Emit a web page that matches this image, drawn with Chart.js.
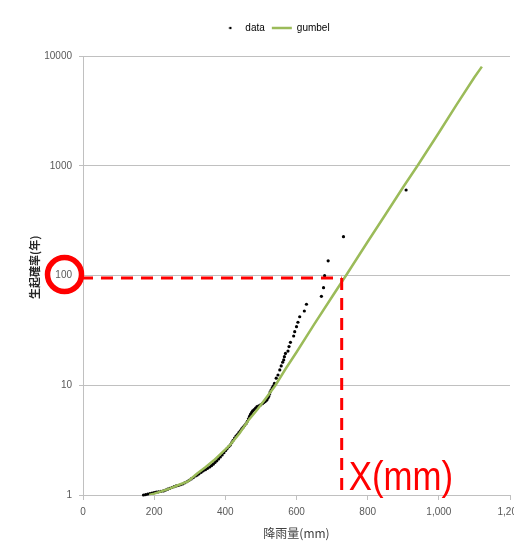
<!DOCTYPE html>
<html>
<head>
<meta charset="utf-8">
<script src="https://cdn.jsdelivr.net/npm/chart.js@4/dist/chart.umd.min.js"></script>
<style>
  html, body { margin: 0; padding: 0; background: #fff; overflow: hidden; }
  #wrap { width: 514px; height: 557px; overflow: hidden; }
  canvas { display: block; }
</style>
</head>
<body>
<div id="wrap"><canvas id="chart" width="530" height="557"></canvas></div>
<script>
// observed annual rainfall (mm) and return period (years)
const rainData = [
  908, 732, 689, 679, 676, 670, 628, 622, 609, 604, 600, 595, 592, 583, 579, 576,
  569, 566, 564, 561, 557, 553, 548, 543, 538, 535, 532, 529, 526, 524, 522, 519,
  516, 512, 508, 504, 499, 494, 489, 485, 481, 477, 474, 471, 468, 465, 462, 458,
  454, 450, 446, 442, 438, 434, 430, 426, 422, 418, 414, 410, 405, 401, 396, 391,
  386, 381, 376, 371, 366, 361, 356, 350, 344, 338, 332, 326, 321, 316, 310, 304,
  298, 292, 286, 280, 274, 268, 262, 256, 250, 244, 238, 232, 226, 219, 212, 206,
  200, 194, 188, 182, 176, 170
];
const yearData = [
  601, 226, 136, 99.6, 77.4, 64.6, 54.7, 47.5, 42.1, 37.5, 34.2, 30.8, 28.1, 24.6, 22.5, 20.5,
  19.5, 18.2, 17.0, 16.2, 15.0, 13.8, 12.4, 11.6, 10.4, 9.9, 9.5, 9.1, 8.7, 8.3, 7.9, 7.6,
  7.3, 7.1, 6.95, 6.8, 6.62, 6.5, 6.38, 6.2, 6.0, 5.85, 5.65, 5.45, 5.2, 4.95, 4.7, 4.46,
  4.3, 4.15, 4.0, 3.84, 3.7, 3.56, 3.44, 3.3, 3.15, 3.0, 2.86, 2.76, 2.65, 2.55, 2.43, 2.32,
  2.22, 2.13, 2.05, 1.98, 1.91, 1.85, 1.8, 1.75, 1.7, 1.66, 1.61, 1.56, 1.52, 1.49, 1.44, 1.4,
  1.36, 1.32, 1.29, 1.26, 1.24, 1.22, 1.21, 1.19, 1.17, 1.15, 1.13, 1.11, 1.09, 1.08, 1.07, 1.06,
  1.05, 1.04, 1.03, 1.02, 1.01, 1.0
];

// fitted gumbel curve
const gumbelRain = [186, 200, 220, 245, 270, 295, 320, 345, 367, 390, 414, 440, 465, 490, 515,
  540, 570, 600, 650, 700, 740, 800, 850, 900, 940, 1000, 1050, 1100, 1121];
const gumbelYear = [1.0, 1.03, 1.08, 1.15, 1.24, 1.33, 1.56, 1.8, 2.06, 2.42, 2.88, 3.65, 4.8, 6.0, 7.7,
  9.9, 14.2, 20, 36, 64, 101, 203, 360, 640, 1000, 2000, 3600, 6400, 8000];

const xTicks = [0, 200, 400, 600, 800, 1000, 1200];
const yTicks = [1, 10, 100, 1000, 10000];

// 100-year reading marked in red
const markRain = 727;
const markYear = 95;
const markLabel = 'X(mm)';

const GREEN = '#9bbb59';
const RED = '#ff0000';
const GRID = '#c0c0c0';
const NUM_FONT = "'Liberation Sans', sans-serif";
const JP_FONT = "'Noto Sans CJK JP', sans-serif";

// tiny dot used as the legend marker for the data series
const dotIcon = document.createElement('canvas');
dotIcon.width = 4; dotIcon.height = 4;
(function () {
  const c = dotIcon.getContext('2d');
  c.fillStyle = '#000';
  c.beginPath(); c.arc(2, 2, 1.3, 0, Math.PI * 2); c.fill();
})();

// keeps the legend row where it is but leaves a wider gap above the plot
const legendGap = {
  id: 'legendGap',
  afterInit(chart) {
    const lg = chart.legend;
    const fit = lg.fit.bind(lg);
    lg.fit = function () { fit(); this.height += 13; };
  },
  afterLayout(chart) {
    chart.legend.left += 20;
    chart.legend.right += 20;
  }
};

const redMarks = {
  id: 'redMarks',
  afterDraw(chart) {
    const { ctx, chartArea, scales: { x, y } } = chart;
    const px = x.getPixelForValue(markRain);
    const py = y.getPixelForValue(markYear);
    ctx.save();
    ctx.strokeStyle = RED;
    ctx.lineWidth = 3;
    ctx.setLineDash([12, 8]);
    ctx.beginPath();
    ctx.moveTo(chartArea.left - 2, py);
    ctx.lineTo(px, py);
    ctx.stroke();
    ctx.beginPath();
    ctx.moveTo(px, py);
    ctx.lineTo(px, chartArea.bottom - 4);
    ctx.stroke();
    ctx.setLineDash([]);
    ctx.lineWidth = 5.5;
    ctx.beginPath();
    ctx.arc(chartArea.left - 18.5, y.getPixelForValue(100) - 1, 17, 0, Math.PI * 2);
    ctx.stroke();
    // condensed label next to the vertical marker
    ctx.translate(px + 7, chartArea.bottom - 5);
    ctx.scale(0.87, 1);
    ctx.fillStyle = RED;
    ctx.font = '40px ' + NUM_FONT;
    ctx.textBaseline = 'alphabetic';
    ctx.fillText(markLabel, 0, 0);
    ctx.restore();
  }
};

new Chart(document.getElementById('chart'), {
  type: 'scatter',
  data: {
    datasets: [
      {
        label: 'data',
        data: rainData.map((x, i) => ({ x, y: yearData[i] })),
        pointRadius: 1.6,
        pointBackgroundColor: '#000',
        pointBorderWidth: 0,
        showLine: false,
        clip: false,
        order: 1
      },
      {
        type: 'line',
        label: 'gumbel',
        data: gumbelRain.map((x, i) => ({ x, y: gumbelYear[i] })),
        borderColor: GREEN,
        borderWidth: 2.5,
        pointRadius: 0,
        fill: false,
        tension: 0,
        order: 0
      }
    ]
  },
  options: {
    responsive: false,
    animation: false,
    devicePixelRatio: 1,
    layout: { padding: { top: 16, right: 20, bottom: 0, left: 0 } },
    plugins: {
      tooltip: { enabled: false },
      legend: {
        position: 'top',
        labels: {
          usePointStyle: true,
          pointStyleWidth: 20,
          boxHeight: 10,
          padding: 7,
          color: '#404040',
          font: { family: NUM_FONT, size: 10 },
          generateLabels: () => [
            { text: 'data', pointStyle: dotIcon, fillStyle: '#000', strokeStyle: '#000', lineWidth: 0, datasetIndex: 0, hidden: false },
            { text: 'gumbel', pointStyle: 'line', fillStyle: GREEN, strokeStyle: GREEN, lineWidth: 2.5, datasetIndex: 1, hidden: false }
          ]
        }
      }
    },
    scales: {
      x: {
        type: 'linear',
        min: 0,
        max: 1200,
        afterBuildTicks: s => { s.ticks = xTicks.map(v => ({ value: v })); },
        afterFit: s => { s.height = 62; },
        ticks: {
          color: '#595959',
          font: { family: NUM_FONT, size: 10 },
          padding: 6,
          maxRotation: 0,
          callback: v => v.toLocaleString('en-US')
        },
        grid: { drawOnChartArea: false, tickLength: 5, color: GRID },
        border: { color: GRID },
        title: {
          display: true,
          text: '降雨量(mm)',
          color: '#404040',
          font: { family: JP_FONT, size: 12 },
          padding: { top: 0, bottom: 16 }
        }
      },
      y: {
        type: 'logarithmic',
        min: 1,
        max: 10000,
        afterBuildTicks: s => { s.ticks = yTicks.map(v => ({ value: v })); },
        afterFit: s => { s.width = 83; },
        ticks: {
          color: '#595959',
          font: { family: NUM_FONT, size: 10 },
          padding: 7,
          callback: v => String(v)
        },
        grid: { tickLength: 4, color: GRID },
        border: { color: GRID },
        title: {
          display: true,
          text: '\u3000\u2002生起確率(年)',
          color: '#262626',
          font: { family: JP_FONT, size: 11, weight: 'bold' },
          padding: { top: 28, bottom: 0 }
        }
      }
    }
  },
  plugins: [legendGap, redMarks]
});
</script>
</body>
</html>
